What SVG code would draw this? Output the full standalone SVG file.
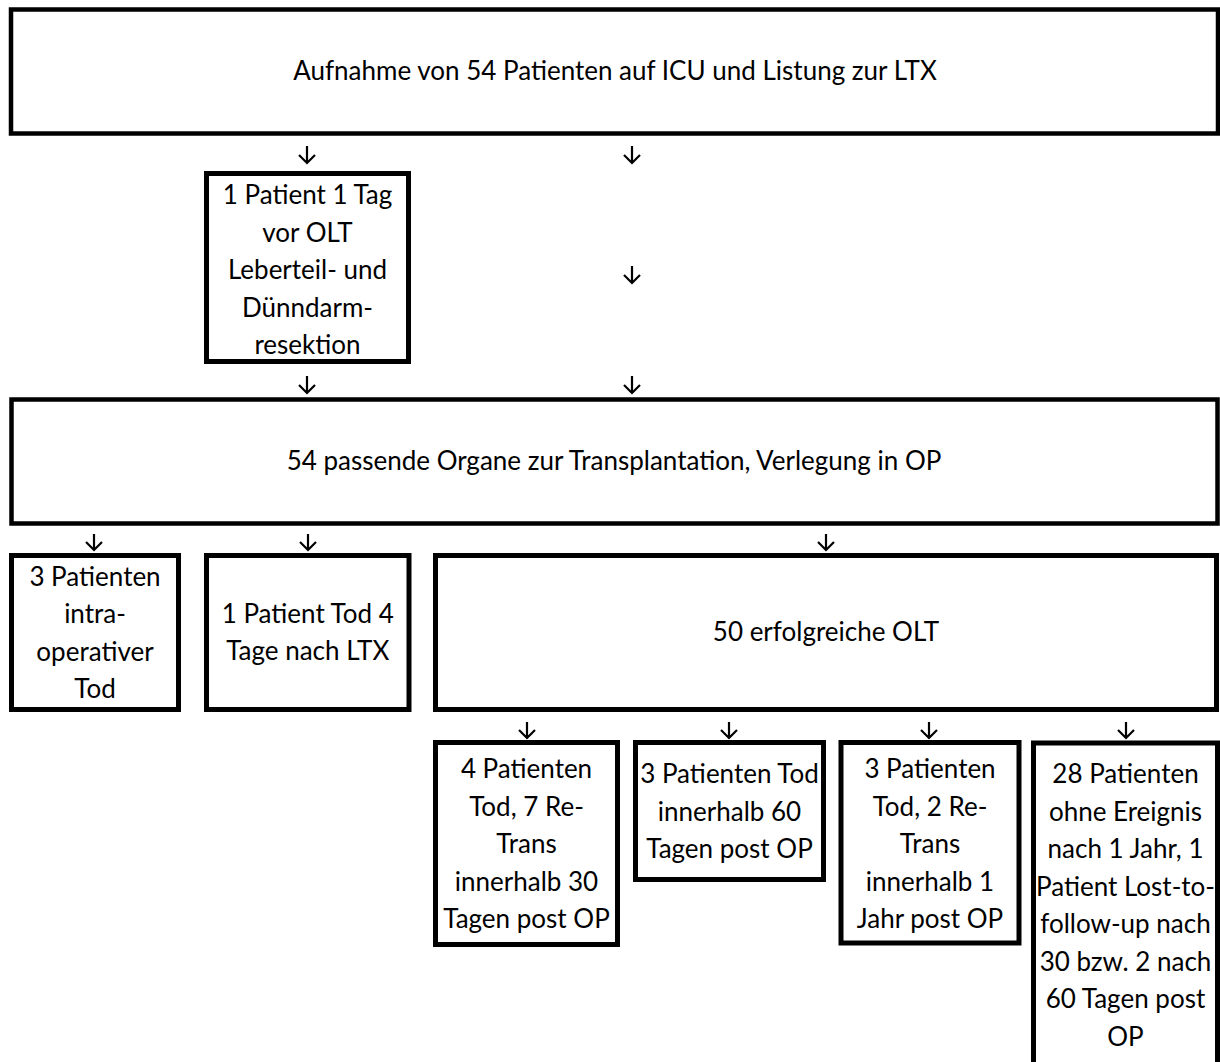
<svg xmlns="http://www.w3.org/2000/svg" width="1220" height="1062" viewBox="0 0 1220 1062">
<defs>
<style>
.box{fill:#fff;stroke:#000;stroke-width:5}
.big{stroke-width:4.5}
.t{font-family:Lato,"Open Sans",sans-serif;font-size:26px;fill:#000;text-anchor:middle}
.arr{fill:none;stroke:#000;stroke-width:2.2;stroke-linecap:butt;stroke-linejoin:miter}
</style>
</defs>
<rect width="1220" height="1062" fill="#fff"/>
<g id="n1"><rect class="box big" x="11" y="9.5" width="1207" height="124"/><text class="t" x="615" y="80">Aufnahme von 54 Patienten auf ICU und Listung zur LTX</text></g>
<g id="n2"><rect class="box" x="206.5" y="173.5" width="202" height="188"/><text class="t"><tspan x="307.5" y="204">1 Patient 1 Tag</tspan><tspan x="307.5" y="241.5">vor OLT</tspan><tspan x="307.5" y="279">Leberteil- und</tspan><tspan x="307.5" y="316.5">Dünndarm-</tspan><tspan x="307.5" y="354">resektion</tspan></text></g>
<g id="n3"><rect class="box big" x="11.5" y="399.5" width="1206" height="124"/><text class="t" x="614" y="470">54 passende Organe zur Transplantation, Verlegung in OP</text></g>
<g id="n4"><rect class="box" x="11.5" y="555.5" width="167" height="154"/><text class="t"><tspan x="95" y="585.5">3 Patienten</tspan><tspan x="95" y="623">intra-</tspan><tspan x="95" y="660.5">operativer</tspan><tspan x="95" y="698">Tod</tspan></text></g>
<g id="n5"><rect class="box" x="206.5" y="555.5" width="202.5" height="154"/><text class="t"><tspan x="307.75" y="622.5">1 Patient Tod 4</tspan><tspan x="307.75" y="660">Tage nach LTX</tspan></text></g>
<g id="n6"><rect class="box" x="435.5" y="555.5" width="781" height="154"/><text class="t" x="826" y="641">50 erfolgreiche OLT</text></g>
<g id="n7"><rect class="box" x="435.5" y="742.5" width="182" height="202"/><text class="t"><tspan x="526.5" y="778">4 Patienten</tspan><tspan x="526.5" y="815.5">Tod, 7 Re-</tspan><tspan x="526.5" y="853">Trans</tspan><tspan x="526.5" y="890.5">innerhalb 30</tspan><tspan x="526.5" y="928">Tagen post OP</tspan></text></g>
<g id="n8"><rect class="box" x="635.5" y="742.5" width="188" height="137"/><text class="t"><tspan x="729.5" y="783">3 Patienten Tod</tspan><tspan x="729.5" y="820.5">innerhalb 60</tspan><tspan x="729.5" y="858">Tagen post OP</tspan></text></g>
<g id="n9"><rect class="box" x="841" y="742.5" width="178" height="200.5"/><text class="t"><tspan x="930" y="778">3 Patienten</tspan><tspan x="930" y="815.5">Tod, 2 Re-</tspan><tspan x="930" y="853">Trans</tspan><tspan x="930" y="890.5">innerhalb 1</tspan><tspan x="930" y="928">Jahr post OP</tspan></text></g>
<g id="n10"><rect class="box" x="1033.5" y="743" width="184" height="340"/><text class="t"><tspan x="1125.5" y="783">28 Patienten</tspan><tspan x="1125.5" y="820.5">ohne Ereignis</tspan><tspan x="1125.5" y="858">nach 1 Jahr, 1</tspan><tspan x="1125.5" y="895.5">Patient Lost-to-</tspan><tspan x="1125.5" y="933">follow-up nach</tspan><tspan x="1125.5" y="970.5">30 bzw. 2 nach</tspan><tspan x="1125.5" y="1008">60 Tagen post</tspan><tspan x="1125.5" y="1045.5">OP</tspan></text></g>
<g id="connectors" class="arr">
<path d="M307 146V163M299 155L307 163L315 155"/>
<path d="M632 146V163M624 155L632 163L640 155"/>
<path d="M632 266V283M624 275L632 283L640 275"/>
<path d="M307 376V393M299 385L307 393L315 385"/>
<path d="M632 376V393M624 385L632 393L640 385"/>
<path d="M94 534V550M86 542L94 550L102 542"/>
<path d="M308 534V550M300 542L308 550L316 542"/>
<path d="M826 534V550M818 542L826 550L834 542"/>
<path d="M527 722V738M519 730L527 738L535 730"/>
<path d="M729 722V738M721 730L729 738L737 730"/>
<path d="M929 722V738M921 730L929 738L937 730"/>
<path d="M1126 722V738M1118 730L1126 738L1134 730"/>
</g>
</svg>
